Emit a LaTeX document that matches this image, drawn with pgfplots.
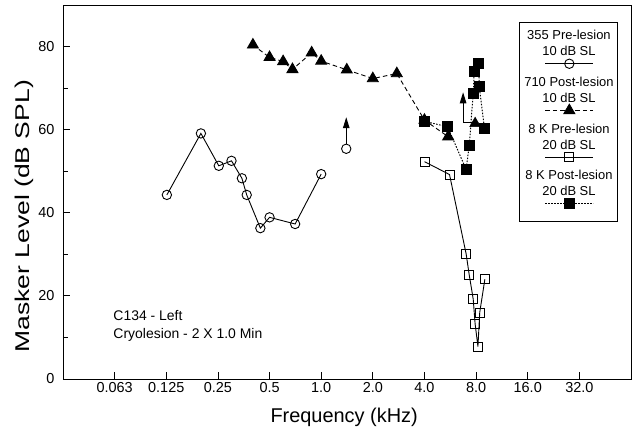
\documentclass[border=0pt]{standalone}
\usepackage{fontspec}
\setmainfont{Liberation Sans}
\usepackage{graphicx}
\usepackage{pgfplots}
\pgfplotsset{compat=1.18}
\usetikzlibrary{arrows.meta}

\begin{document}
\begin{tikzpicture}
\begin{axis}[
  scale only axis, width=568bp, height=374bp,
  xmode=log, log basis x=2,
  xmin=0.03125, xmax=64, ymin=0, ymax=90,
  xtick={0.0625,0.125,0.25,0.5,1,2,4,8,16,32},
  xticklabels={0.063,0.125,0.25,0.5,1.0,2.0,4.0,8.0,16.0,32.0},
  ytick={0,20,40,60,80},
  minor ytick={10,30,50,70},
  tick align=inside, xtick pos=bottom, ytick pos=left,
  major tick length=7bp, minor tick length=5bp,
  tick style={black, line width=0.8bp},
  axis line style={line width=0.9bp},
  /pgf/number format/assume math mode=true,
  ticklabel style={font=\fontsize{14.5}{17}\selectfont},
  yticklabel style={xshift=-5bp},
  xlabel={Frequency (kHz)},
  ylabel={\scalebox{1.33}[1]{Masker Level (dB SPL)}},
  label style={font=\fontsize{20}{24}\selectfont},
  xlabel style={at={(axis description cs:0.495,-0.1016)}, anchor=center},
  ylabel style={at={(axis description cs:-0.0687,0.435)}, anchor=center},
  legend style={at={(axis description cs:0.977,0.9545)}, anchor=north east,
    draw=black, line width=0.7bp, font=\fontsize{13}{16}\selectfont,
    cells={align=center, anchor=center}, inner xsep=2bp, inner ysep=6bp},
  % sample line sits under the two text lines of each entry
  legend image code/.code={
    \draw[overlay, mark repeat=2, mark phase=2, #1]
      plot coordinates {(24bp,-12bp) (48bp,-12bp) (72bp,-12bp)};
    \pgfpathrectangle{\pgfpointorigin}{\pgfqpoint{1bp}{1bp}}\pgfusepath{}
  },
]

% arrows marking levels above the measured maximum
\draw[line width=1bp, -{Triangle[length=11bp,width=6.5bp]}]
  (axis cs:1.40,56.5) -- (axis cs:1.40,63);
\draw[line width=1bp, -{Triangle[length=11bp,width=6.5bp]}]
  (axis cs:7.9,61.7) -| (axis cs:6.72,69);

% 355 Hz probe, pre-lesion, 10 dB SL
\addplot[black, line width=0.9bp, mark=o, mark size=4.7bp,
  mark options={fill=white, solid}] coordinates {
  (0.126,44.3) (0.199,59.1) (0.253,51.3) (0.30,52.5) (0.345,48.3)
  (0.368,44.3) (0.442,36.3) (0.50,38.9) (0.705,37.3) (1.0,49.3)};
\addlegendentry{355 Pre-lesion\\10 dB SL\\\mbox{}}

% 710 Hz probe, post-lesion, 10 dB SL
\addplot[black, line width=0.9bp, dash pattern=on 4.5bp off 3bp,
  mark=triangle*, mark size=6.3bp, mark options={solid}] coordinates {
  (0.40,80.4) (0.50,77.4) (0.60,76.4) (0.68,74.5) (0.88,78.5)
  (1.0,76.5) (1.41,74.4) (2.0,72.3) (2.76,73.5) (4.0,62.3) (5.5,58.3)};
\addlegendentry{710 Post-lesion\\10 dB SL\\\mbox{}}

% 8 kHz probe, pre-lesion, 20 dB SL
\addplot[black, line width=0.9bp, mark=square, mark size=4.5bp,
  mark options={solid}] coordinates {
  (4.0,52.3) (5.6,49.2) (7.0,30.1) (7.3,25.0) (7.7,19.2)
  (7.9,13.2) (8.2,7.8) (8.4,16.0) (9.0,24.0)};
\addlegendentry{8 K Pre-lesion\\20 dB SL\\\mbox{}}

% 8 kHz probe, post-lesion, 20 dB SL
\addplot[black, line width=1bp, dash pattern=on 1.5bp off 1.5bp,
  mark=square*, mark size=5bp, mark options={solid}] coordinates {
  (4.0,62.0) (5.46,60.7) (7.0,50.4) (7.3,56.3) (7.7,68.7)
  (7.8,74.0) (8.27,76.0) (8.35,70.3) (8.96,60.2)};
\addlegendentry{8 K Post-lesion\\20 dB SL\\\mbox{}}

% single points beyond the curves
\addplot[forget plot, only marks, black, line width=0.9bp, mark=o,
  mark size=4.7bp, mark options={fill=white}] coordinates {(1.40,55.4)};
\addplot[forget plot, only marks, black, mark=triangle*, mark size=6.3bp]
  coordinates {(7.9,61.5)};

\node[anchor=west, font=\fontsize{14}{17}\selectfont]
  at (axis description cs:0.0827,0.171) {C134 - Left};
\node[anchor=west, font=\fontsize{14}{17}\selectfont]
  at (axis description cs:0.0827,0.118) {Cryolesion - 2 X 1.0 Min};
\end{axis}
\pgfresetboundingbox
\path ([shift={(-63bp,-52bp)}]current axis.south west)
  rectangle ([shift={(9bp,5bp)}]current axis.north east);
\end{tikzpicture}
\end{document}
